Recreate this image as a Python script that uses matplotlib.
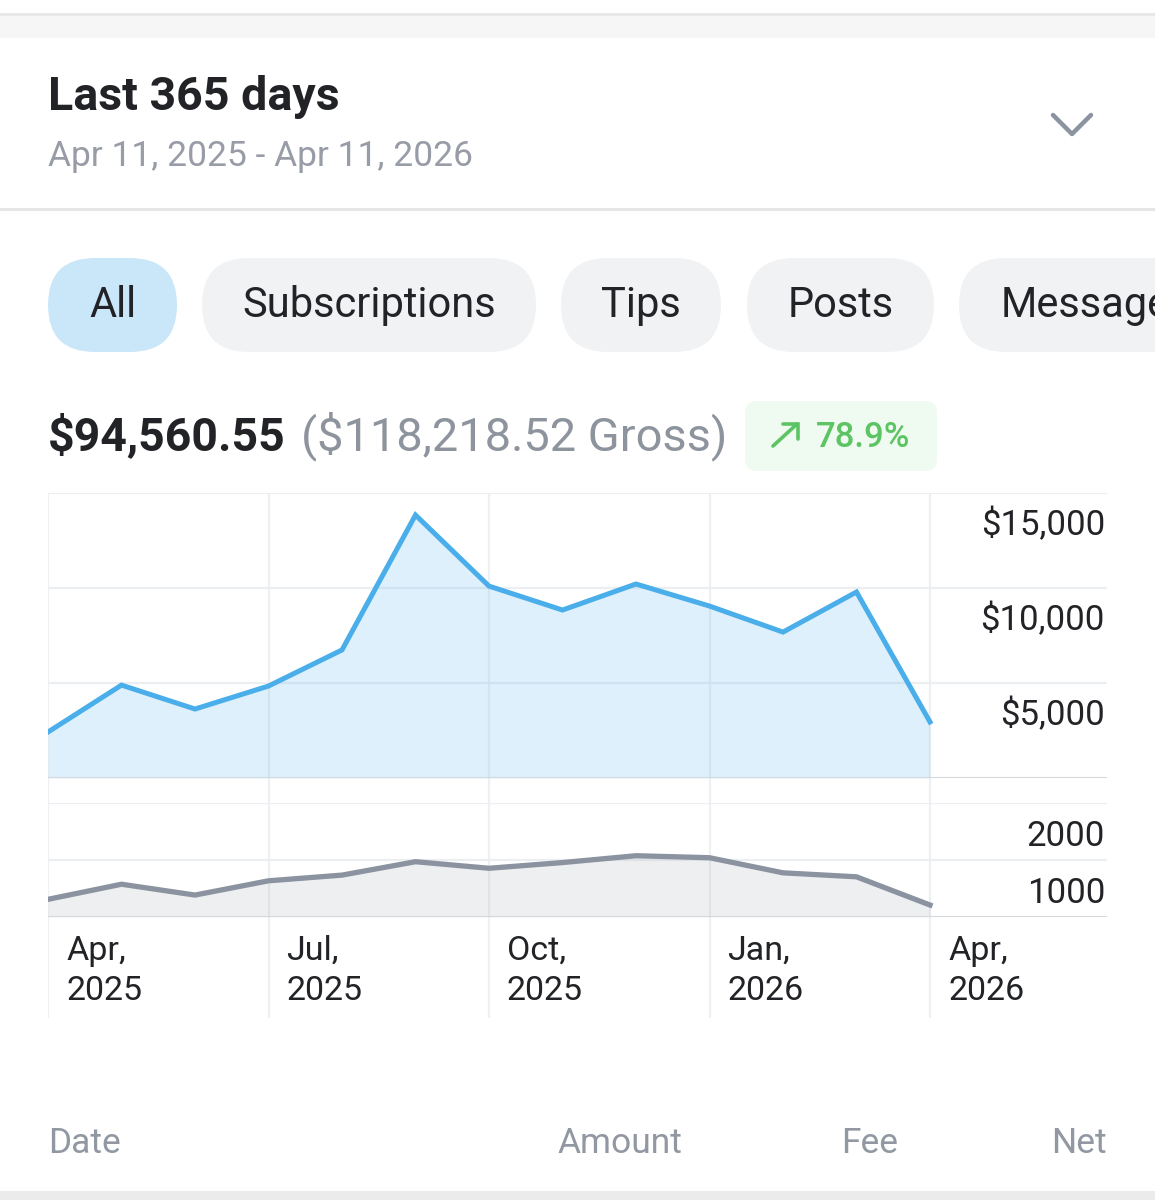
import matplotlib
matplotlib.use("Agg")
import matplotlib.pyplot as plt
from matplotlib.patches import FancyBboxPatch, Rectangle

plt.rcParams['font.family'] = ['Roboto', 'DejaVu Sans']

W, H = 1155, 1200

# monthly data, Apr 2025 .. Apr 2026
months = list(range(13))
net_earnings = [2420, 4890, 3630, 4840, 6740, 13840, 10100, 8840, 10210, 9050, 7680, 9790, 2950]
tx_count = [310, 575, 385, 635, 735, 970, 855, 955, 1075, 1040, 775, 705, 210]

tick_pos = [0, 3, 6, 9, 12]
tick_labels = ["Apr,\n2025", "Jul,\n2025", "Oct,\n2025", "Jan,\n2026", "Apr,\n2026"]
top_ticks = [5000, 10000, 15000]
top_tick_labels = ["$5,000", "$10,000", "$15,000"]
bot_ticks = [1000, 2000]
bot_tick_labels = ["1000", "2000"]

filters = ["All", "Subscriptions", "Tips", "Posts", "Messages"]
net_total = "$94,560.55"
gross_total = "($118,218.52 Gross)"
change = "78.9%"

DARK = '#222326'
GRAY = '#979ca6'
BLUE = '#4aaeea'
SLATE = '#8b93a0'
GRID = '#eceef1'
BASE = '#d5d8dd'

fig = plt.figure(figsize=(W / 100, H / 100), dpi=100)

# pixel canvas for the app chrome
bg = fig.add_axes([0, 0, 1, 1])
bg.set_xlim(0, W)
bg.set_ylim(H, 0)
bg.axis('off')

bg.add_patch(Rectangle((0, 15), W, 23, color='#f6f6f7', lw=0))
bg.plot([0, W], [14, 14], color='#e4e5e7', lw=1.8)
bg.plot([0, W], [209, 209], color='#e4e5e7', lw=2.2)
bg.add_patch(Rectangle((0, 1191), W, 9, color='#ebebec', lw=0))

bg.text(48, 110, "Last 365 days", fontsize=33.5, fontweight='bold', color=DARK, va='baseline')
bg.text(48, 166, "Apr 11, 2025 - Apr 11, 2026", fontsize=25.5, color=GRAY, va='baseline')
bg.plot([1053, 1072, 1091], [115, 134, 115], color=SLATE, lw=3.2,
        solid_capstyle='round', solid_joinstyle='round')

# filter pills
pill_x = [(48, 177), (202, 536), (561, 721), (747, 934), (959, 1260)]
for i, (label, (x0, x1)) in enumerate(zip(filters, pill_x)):
    col = '#c9e7f9' if i == 0 else '#f1f2f4'
    bg.add_patch(FancyBboxPatch((x0, 258), x1 - x0, 94,
                                boxstyle="round,pad=0,rounding_size=47",
                                fc=col, ec='none'))
    if i == len(filters) - 1:
        bg.text(1001, 317, label, fontsize=30, color=DARK, va='baseline', ha='left')
    else:
        bg.text((x0 + x1) / 2, 317, label, fontsize=30, color=DARK, va='baseline', ha='center')

# totals
bg.text(48, 450, net_total, fontsize=33.4, fontweight='bold', color=DARK, va='baseline')
bg.text(301, 450, gross_total, fontsize=33.8, color='#8e949d', va='baseline')
bg.add_patch(FancyBboxPatch((745, 401), 192, 70, boxstyle="round,pad=0,rounding_size=12",
                            fc='#effaf0', ec='none'))
GREEN = '#5cc463'
bg.plot([773, 797], [446, 424], color=GREEN, lw=2.6, solid_capstyle='round')
bg.plot([783, 798, 798], [424, 424, 439], color=GREEN, lw=2.6,
        solid_capstyle='round', solid_joinstyle='miter')
bg.text(816, 447, change, fontsize=25, fontweight='medium', color=GREEN, va='baseline')

# footer
for label, x, ha in [("Date", 48, 'left'), ("Amount", 558, 'left'),
                     ("Fee", 841, 'left'), ("Net", 1107, 'right')]:
    bg.text(x, 1153, label, fontsize=25.5, color='#9298a2', va='baseline', ha=ha)


def px_axes(x0, y0, x1, y1):
    a = fig.add_axes([x0 / W, 1 - y1 / H, (x1 - x0) / W, (y1 - y0) / H])
    a.set_facecolor('none')
    for s in a.spines.values():
        s.set_visible(False)
    a.set_xticks([])
    a.set_yticks([])
    return a


xmax = 12 * (1107 - 48) / (930 - 48)

# vertical grid spanning both charts and the label strip
grid_ax = px_axes(48, 493, 1107, 1018)
grid_ax.set_xlim(0, xmax)
grid_ax.set_ylim(0, 1)
for t in tick_pos:
    grid_ax.axvline(t, color='#eef0f3', lw=1.6, zorder=0)

# main earnings chart
top = px_axes(48, 493, 1107, 778)
top.set_xlim(0, xmax)
top.set_ylim(0, 15000)
for v in top_ticks:
    top.axhline(v, color=GRID, lw=1.6, zorder=1)
top.axhline(0, color=BASE, lw=2.2, zorder=3)
top.fill_between(months, net_earnings, 0, color=BLUE, alpha=0.18, lw=0, zorder=2)
top.plot(months, net_earnings, color=BLUE, lw=3.6, solid_joinstyle='miter', zorder=4)
for v, lab in zip(top_ticks, top_tick_labels):
    top.annotate(lab, xy=(1, v), xycoords=('axes fraction', 'data'),
                 xytext=(-2, -42), textcoords='offset pixels',
                 ha='right', va='baseline', fontsize=25, color=DARK)

# transaction count chart
bot = px_axes(48, 803, 1107, 917)
bot.set_xlim(0, xmax)
bot.set_ylim(0, 2000)
for v in bot_ticks:
    bot.axhline(v, color=GRID, lw=1.6, zorder=1)
bot.axhline(0, color=BASE, lw=2.2, zorder=3)
bot.fill_between(months, tx_count, 0, color=SLATE, alpha=0.14, lw=0, zorder=2)
bot.plot(months, tx_count, color=SLATE, lw=3.8, solid_joinstyle='miter', zorder=4)
for v, lab in zip(bot_ticks, bot_tick_labels):
    bot.annotate(lab, xy=(1, v), xycoords=('axes fraction', 'data'),
                 xytext=(-2, -43), textcoords='offset pixels',
                 ha='right', va='baseline', fontsize=25, color=DARK)

# x tick labels, two lines each, below the count chart
for t, lab in zip(tick_pos, tick_labels):
    m, y = lab.split("\n")
    for txt, dy in [(m, -43), (y, -83)]:
        bot.annotate(txt, xy=(t, 0), xycoords='data', xytext=(18, dy),
                     textcoords='offset pixels', ha='left', va='baseline',
                     fontsize=24.5, color=DARK, annotation_clip=False)

fig.savefig("out.png", dpi=100)
